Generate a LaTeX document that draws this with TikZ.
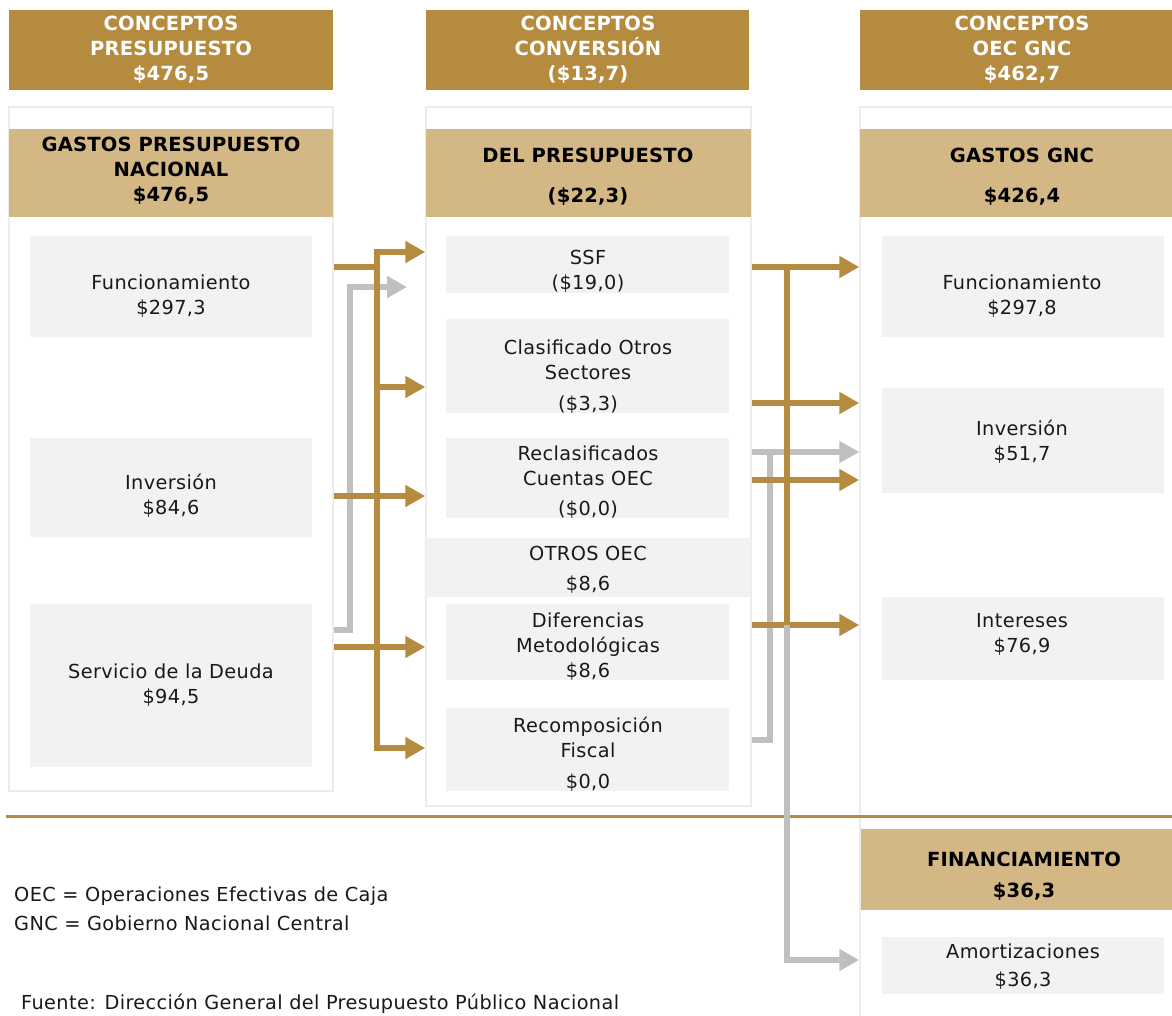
\documentclass[tikz,border=0pt]{standalone}
\usepackage{fontspec}
\setmainfont{DejaVu Sans}[LetterSpace=2, BoldFeatures={LetterSpace=1}]
\usetikzlibrary{arrows.meta,fit}
\definecolor{gold}{RGB}{181,139,64}
\definecolor{tan}{RGB}{211,183,133}
\definecolor{boxgray}{RGB}{242,242,242}
\definecolor{panelgray}{RGB}{236,236,236}
\definecolor{arrowgray}{RGB}{191,191,191}
\begin{document}
\begin{tikzpicture}[x=1pt,y=-1pt,
 panel/.style={draw=panelgray, line width=1.5pt, fill=white, inner sep=0pt},
 hdr/.style={fill=gold, inner sep=0pt},
 subhdr/.style={fill=tan, inner sep=0pt},
 gbox/.style={fill=boxgray, inner sep=0pt},
 txt/.style={align=center, font=\fontsize{19.3}{25}\selectfont, text=black!90, inner sep=0pt},
 htxt/.style={align=center, font=\bfseries\fontsize{19.5}{25}\selectfont, text=white, inner sep=0pt},
 stxt/.style={align=center, font=\bfseries\fontsize{19.5}{25}\selectfont, text=black, inner sep=0pt},
 note/.style={anchor=base west, font=\fontsize{19.3}{28}\selectfont, text=black!90, inner sep=0pt},
 goldline/.style={draw=gold, line width=5.5pt},
 grayline/.style={draw=arrowgray, line width=5.5pt},
 gtip/.style={-{Triangle[length=20pt,width=21pt]}},
 bitip/.style={{Triangle[length=20pt,width=21pt]}-{Triangle[length=20pt,width=21pt]}},
]
\useasboundingbox (0,0) rectangle (1172,1015);
\fill[white] (0,0) rectangle (1172,1015);

% headers
\node[hdr, fit={(9,10) (333,90)}] (hL) {};
\node[hdr, fit={(426,10) (749,90)}] (hM) {};
\node[hdr, fit={(860,10) (1190,90)}] (hR) {};
\node[htxt] (hLt) at (171,49.5) {CONCEPTOS\\PRESUPUESTO\\\$476,5};
\node[htxt] (hMt) at (588,49.5) {CONCEPTOS\\CONVERSIÓN\\(\$13,7)};
\node[htxt] (hRt) at (1022,49.5) {CONCEPTOS\\OEC GNC\\\$462,7};

% panels
\node[panel, fit={(9,107) (333,791)}] (pL) {};
\node[panel, fit={(426,107) (751,806)}] (pM) {};
\node[panel, fit={(860,107) (1190,1040)}] (pR) {};

% sub headers
\node[subhdr, fit={(9,129) (333,217)}] (sL) {};
\node[subhdr, fit={(426,129) (751,217)}] (sM) {};
\node[subhdr, fit={(860,129) (1190,217)}] (sR) {};
\node[stxt] (sLt) at (171,171) {GASTOS PRESUPUESTO\\NACIONAL\\\$476,5};
\node[stxt] (sMt) at (588,176.5) {DEL PRESUPUESTO\\[15pt](\$22,3)};
\node[stxt] (sRt) at (1022,176.5) {GASTOS GNC\\[15pt]\$426,4};

% left boxes
\node[gbox, fit={(30,236) (312,337)}] (lfun) {};
\node[gbox, fit={(30,438) (312,537)}] (linv) {};
\node[gbox, fit={(30,604) (312,767)}] (lser) {};
\node[txt] (lfunt) at (171,296) {Funcionamiento\\\$297,3};
\node[txt] (linvt) at (171,496) {Inversión\\\$84,6};
\node[txt] (lsert) at (171,685) {Servicio de la Deuda\\\$94,5};

% middle boxes
\node[gbox, fit={(446,236) (729,293)}] (ssf) {};
\node[gbox, fit={(446,319) (729,413)}] (clas) {};
\node[gbox, fit={(446,438) (729,518)}] (recl) {};
\node[gbox, fit={(426,538) (751,597)}] (otros) {};
\node[gbox, fit={(446,604) (729,680)}] (dif) {};
\node[gbox, fit={(446,708) (729,791)}] (recomp) {};
\node[txt] (ssft) at (588,271.5) {SSF\\(\$19,0)};
\node[txt] (clast) at (588,377) {Clasificado Otros\\Sectores\\[6pt](\$3,3)};
\node[txt] (reclt) at (588,482) {Reclasificados\\Cuentas OEC\\[5pt](\$0,0)};
\node[txt] (otrost) at (588,569.5) {OTROS OEC\\[5pt]\$8,6};
\node[txt] (dift) at (588,646.5) {Diferencias\\Metodológicas\\\$8,6};
\node[txt] (recompt) at (588,754) {Recomposición\\Fiscal\\[6pt]\$0,0};

% right boxes
\node[gbox, fit={(882,236) (1164,337)}] (rfun) {};
\node[gbox, fit={(882,388) (1164,493)}] (rinv) {};
\node[gbox, fit={(882,597) (1164,680)}] (rint) {};
\node[subhdr, fit={(861,829) (1190,910)}] (fin) {};
\node[gbox, fit={(882,937) (1164,994)}] (amort) {};
\node[txt] (rfunt) at (1022,296) {Funcionamiento\\\$297,8};
\node[txt] (rinvt) at (1022,441.5) {Inversión\\\$51,7};
\node[txt] (rintt) at (1022,634.5) {Intereses\\\$76,9};
\node[stxt] (fint) at (1024,876) {FINANCIAMIENTO\\[6pt]\$36,3};
\node[txt] (amortt) at (1023,966.5) {Amortizaciones\\[3pt]\$36,3};

% notes
\node[note] (n1) at (14,901) {OEC = Operaciones Efectivas de Caja};
\node[note] (n2) at (14,930) {GNC = Gobierno Nacional Central};
\node[note] (n3) at (21,1009) {Fuente: Dirección General del Presupuesto Público Nacional};

% helper coordinates
\coordinate (yA) at (0,252);
\coordinate (yF) at (0,267);
\coordinate (yB) at (0,287);
\coordinate (yC) at (0,387);
\coordinate (yD) at (0,496);
\coordinate (yE) at (0,630);
\coordinate (yG) at (0,647);
\coordinate (yH) at (0,748);
\coordinate (rA) at (0,267);
\coordinate (rB) at (0,403);
\coordinate (rC) at (0,452);
\coordinate (rD) at (0,480);
\coordinate (rE) at (0,625);
\coordinate (rF) at (0,740);
\coordinate (rG) at (0,960);
\coordinate (busL) at (377,0);
\coordinate (gxL) at (350,0);
\coordinate (busR) at (787,0);
\coordinate (gxR) at (770,0);
\coordinate (g1) at (407,287);

% separator
\draw[gold, line width=3pt] (6,816) -- (1172,816);

% gray connectors (behind)
\draw[grayline, gtip] (pL.east |- yE) -- (gxL |- yE) -- (gxL |- yB) -- (g1);
\draw[grayline, gtip] (pM.east |- rC) -- (pR.west |- rC);
\draw[grayline] (pM.east |- rF) -- (gxR |- rF) -- (gxR |- rC);

% gold connectors left
\draw[goldline] (pL.east |- yF) -- (busL |- yF);
\draw[goldline, bitip] (pM.west |- yA) -- (busL |- yA) -- (busL |- yH) -- (pM.west |- yH);
\draw[goldline, gtip] (busL |- yC) -- (pM.west |- yC);
\draw[goldline, gtip] (pL.east |- yD) -- (pM.west |- yD);
\draw[goldline, gtip] (pL.east |- yG) -- (pM.west |- yG);

% gold connectors right
\draw[goldline] (busR |- rA) -- (busR |- rE);
\draw[goldline, gtip] (pM.east |- rA) -- (pR.west |- rA);
\draw[goldline, gtip] (pM.east |- rB) -- (pR.west |- rB);
\draw[goldline, gtip] (pM.east |- rD) -- (pR.west |- rD);
\draw[goldline, gtip] (pM.east |- rE) -- (pR.west |- rE);

% gray to amortizaciones
\draw[grayline, gtip] (busR |- rE) -- (busR |- rG) -- (pR.west |- rG);
\end{tikzpicture}
\end{document}
